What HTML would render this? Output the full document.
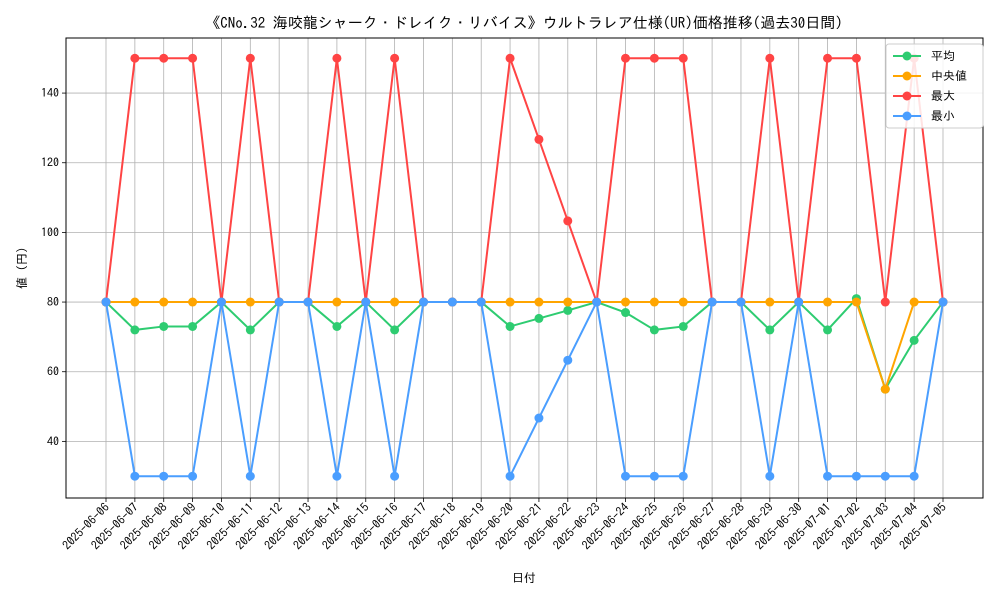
<!DOCTYPE html>
<html><head><meta charset="utf-8"><style>
body{margin:0;background:#fff}
svg{font-family:"IPAGothic","Noto Sans CJK JP",sans-serif}
</style></head><body>
<svg id="c" width="1000" height="600"></svg>
<script>
const dates=["2025-06-06","2025-06-07","2025-06-08","2025-06-09","2025-06-10","2025-06-11","2025-06-12","2025-06-13","2025-06-14","2025-06-15","2025-06-16","2025-06-17","2025-06-18","2025-06-19","2025-06-20","2025-06-21","2025-06-22","2025-06-23","2025-06-24","2025-06-25","2025-06-26","2025-06-27","2025-06-28","2025-06-29","2025-06-30","2025-07-01","2025-07-02","2025-07-03","2025-07-04","2025-07-05"];
const avgVals=[80,72,73,73,80,72,80,80,73,80,72,80,80,80,73,75.3,77.6,80,77,72,73,80,80,72,80,72,81,55,69,80];
const medVals=[80,80,80,80,80,80,80,80,80,80,80,80,80,80,80,80,80,80,80,80,80,80,80,80,80,80,80,55,80,80];
const maxVals=[80,150,150,150,80,150,80,80,150,80,150,80,80,80,150,126.7,103.3,80,150,150,150,80,80,150,80,150,150,80,150,80];
const minVals=[80,30,30,30,80,30,80,80,30,80,30,80,80,80,30,46.7,63.3,80,30,30,30,80,80,30,80,30,30,30,30,80];
const yTicks=[40,60,80,100,120,140];
const L=66,R=983,T=38,B=498;
const x=i=>106+i*(943-106)/(dates.length-1);
const y=v=>580.7-v*3.483;
const svg=document.getElementById('c');
const NS='http://www.w3.org/2000/svg';
function mk(t,a,p){const e=document.createElementNS(NS,t);for(const k in a)e.setAttribute(k,a[k]);(p||svg).appendChild(e);return e;}
// grid
dates.forEach((d,i)=>{
 const g=mk('line',{x1:x(i),x2:x(i),y1:T,y2:B,stroke:'#b0b0b0','stroke-width':0.8});
 
 
 mk('line',{x1:x(i),x2:x(i),y1:B,y2:B+4,stroke:'#000','stroke-width':0.8});
 const t=mk('text',{x:0,y:0,'font-size':12,'text-anchor':'end',transform:`translate(${x(i)+4},${B+10}) rotate(-45)`});
 
 
 t.textContent=d;
});
yTicks.forEach(v=>{
 const g=mk('line',{x1:L,x2:R,y1:y(v),y2:y(v),stroke:'#b0b0b0','stroke-width':0.8});
 
 
 mk('line',{x1:L-4,x2:L,y1:y(v),y2:y(v),stroke:'#000','stroke-width':0.8});
 const t=mk('text',{x:L-7,y:y(v)+4,'font-size':12,'text-anchor':'end'});
 
 
 t.textContent=v;
});
const series=[[avgVals,'#2ecc71','平均','avg'],[medVals,'#ffa500','中央値','median'],[maxVals,'#ff4444','最大','max'],[minVals,'#4a9eff','最小','min']];
series.forEach(([vals,c,lab,n])=>{
 const p=mk('polyline',{points:vals.map((v,i)=>x(i)+','+y(v)).join(' '),fill:'none',stroke:c,'stroke-width':2});
 
 
 vals.forEach((v,i)=>{
  const m=mk('circle',{cx:x(i),cy:y(v),r:4.5,fill:c});
  
  
 });
});
const fr=mk('rect',{x:L,y:T,width:R-L,height:B-T,fill:'none',stroke:'#000','stroke-width':1});


// legend
const lg=mk('g',{});


mk('rect',{x:886,y:44,width:97,height:84,fill:'#fff','fill-opacity':0.85,stroke:'#ccc',rx:3},lg);
series.forEach(([vals,c,lab,n],k)=>{
 const yy=56+k*20;
 const e=mk('g',{},lg);
 
 
 mk('line',{x1:893,x2:921,y1:yy,y2:yy,stroke:c,'stroke-width':2},e);
 mk('circle',{cx:907,cy:yy,r:4.5,fill:c},e);
 const t=mk('text',{x:931,y:yy+4,'font-size':12},e);
 t.textContent=lab;
});
const tt=mk('text',{x:524,y:28,'font-size':15,'text-anchor':'middle'});


tt.textContent='《CNo.32 海咬龍シャーク・ドレイク・リバイス》ウルトラレア仕様(UR)価格推移(過去30日間)';
const xt=mk('text',{x:524,y:582,'font-size':12,'text-anchor':'middle'});


xt.textContent='日付';
const yt=mk('text',{x:0,y:0,'font-size':12,'text-anchor':'middle',transform:'translate(26,268) rotate(-90)'});


yt.textContent='値 (円)';
</script>
</body></html>
